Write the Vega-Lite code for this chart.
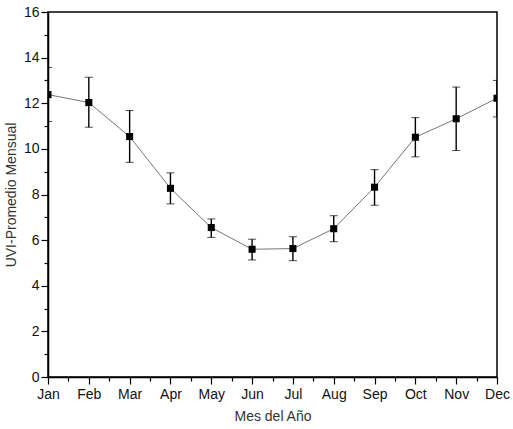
{
  "$schema": "https://vega.github.io/schema/vega-lite/v6.json",
  "width": 449,
  "height": 365,
  "autosize": {"type": "none"},
  "padding": {"left": 48, "top": 12, "right": 16, "bottom": 52},
  "background": "white",
  "data": {
    "values": [
      {"m": 1, "uvi": 12.38, "hi": 13.57, "lo": 11.2},
      {"m": 2, "uvi": 12.03, "hi": 13.14, "lo": 10.95},
      {"m": 3, "uvi": 10.54, "hi": 11.68, "lo": 9.41},
      {"m": 4, "uvi": 8.27, "hi": 8.95, "lo": 7.59},
      {"m": 5, "uvi": 6.55, "hi": 6.93, "lo": 6.12},
      {"m": 6, "uvi": 5.6, "hi": 6.04, "lo": 5.13},
      {"m": 7, "uvi": 5.63, "hi": 6.15, "lo": 5.1},
      {"m": 8, "uvi": 6.5, "hi": 7.07, "lo": 5.93},
      {"m": 9, "uvi": 8.32, "hi": 9.09, "lo": 7.53},
      {"m": 10, "uvi": 10.51, "hi": 11.37, "lo": 9.65},
      {"m": 11, "uvi": 11.32, "hi": 12.71, "lo": 9.93},
      {"m": 12, "uvi": 12.22, "hi": 13.0, "lo": 11.4}
    ]
  },
  "encoding": {
    "x": {
      "field": "m",
      "type": "quantitative",
      "scale": {"domain": [1, 12], "nice": false, "zero": false},
      "title": "Mes del Año",
      "axis": {
        "values": [1, 1.5, 2, 2.5, 3, 3.5, 4, 4.5, 5, 5.5, 6, 6.5, 7, 7.5, 8, 8.5, 9, 9.5, 10, 10.5, 11, 11.5, 12],
        "labelExpr": "datum.value % 1 ? '' : ['Jan','Feb','Mar','Apr','May','Jun','Jul','Aug','Sep','Oct','Nov','Dec'][datum.value - 1]",
        "tickSize": {"condition": {"test": "datum.value % 1", "value": 4}, "value": 7},
        "labelPadding": 3,
        "titlePadding": 8,
        "labelFlush": false,
        "labelOverlap": false
      }
    },
    "y": {
      "type": "quantitative",
      "scale": {"domain": [0, 16], "nice": false},
      "title": "UVI-Promedio Mensual",
      "axis": {
        "values": [0, 1, 2, 3, 4, 5, 6, 7, 8, 9, 10, 11, 12, 13, 14, 15, 16],
        "labelExpr": "datum.value % 2 ? '' : datum.value",
        "tickSize": {"condition": {"test": "datum.value % 2", "value": 4}, "value": 7},
        "labelPadding": 2,
        "titlePadding": 5,
        "labelOverlap": false
      }
    }
  },
  "layer": [
    {
      "mark": {"type": "line", "color": "#666666", "strokeWidth": 0.9, "clip": true},
      "encoding": {"y": {"field": "uvi"}}
    },
    {
      "mark": {"type": "errorbar", "clip": true, "ticks": {"size": 8, "color": "black", "strokeWidth": 1.4}, "rule": {"color": "black", "strokeWidth": 1.4}},
      "encoding": {"y": {"field": "hi"}, "y2": {"field": "lo"}}
    },
    {
      "mark": {"type": "point", "shape": "square", "filled": true, "color": "black", "size": 50, "opacity": 1, "clip": true},
      "encoding": {"y": {"field": "uvi"}}
    }
  ],
  "config": {
    "font": "Liberation Sans",
    "view": {"stroke": "black", "strokeWidth": 1.5},
    "axis": {
      "grid": false,
      "domainColor": "black",
      "domainWidth": 1.5,
      "tickColor": "black",
      "tickWidth": 1.2,
      "labelFontSize": 14,
      "labelColor": "#111111",
      "titleFontSize": 14,
      "titleFontWeight": "normal",
      "titleColor": "#333333"
    }
  }
}
